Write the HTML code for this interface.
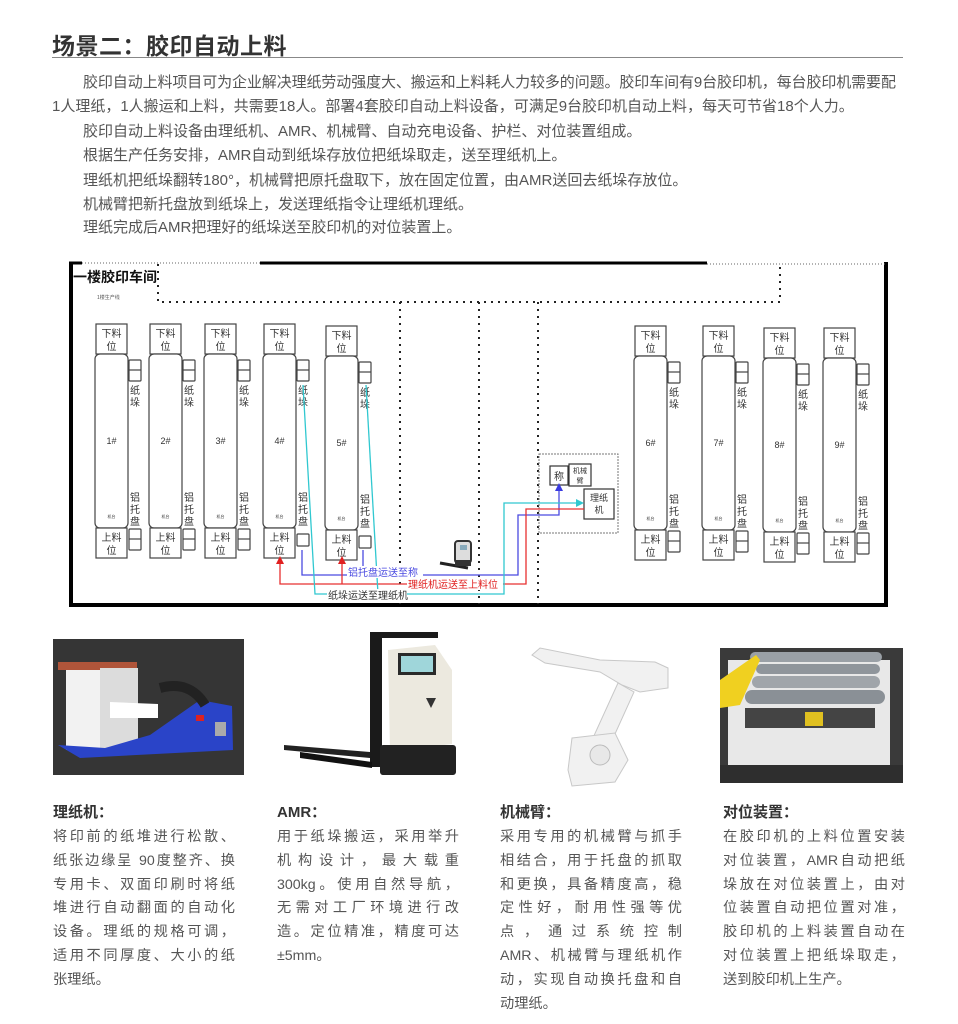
<!DOCTYPE html>
<html><head><meta charset="utf-8">
<style>
*{margin:0;padding:0;box-sizing:border-box}
body{width:958px;height:1024px;background:#fff;position:relative;overflow:hidden;font-family:"Liberation Sans","Noto Sans CJK SC",sans-serif;color:#555}
.title{position:absolute;left:52px;top:27px;font-size:23px;font-weight:bold;color:#333;letter-spacing:0.5px}
.hr{position:absolute;left:52px;top:57px;width:851px;height:1px;background:#888}
.p{position:absolute;left:52px;font-size:15px;line-height:24px;white-space:nowrap;color:#555}
.col{position:absolute;top:802px;width:182px;font-size:14.2px;color:#555}
.col h4{font-size:15px;font-weight:bold;color:#333;height:24px;line-height:22px}
.col div.l{height:23.8px;line-height:23.8px;text-align:justify;text-align-last:justify;white-space:nowrap}
.col div.last{text-align-last:left}
</style></head><body>
<div class="title">场景二：胶印自动上料</div>
<div class="hr"></div>
<div class="p" style="top:71px;left:83px;letter-spacing:-0.1px">胶印自动上料项目可为企业解决理纸劳动强度大、搬运和上料耗人力较多的问题。胶印车间有9台胶印机，每台胶印机需要配</div>
<div class="p" style="top:95px">1人理纸，1人搬运和上料，共需要18人。部署4套胶印自动上料设备，可满足9台胶印机自动上料，每天可节省18个人力。</div>
<div class="p" style="top:120px;left:83px">胶印自动上料设备由理纸机、AMR、机械臂、自动充电设备、护栏、对位装置组成。</div>
<div class="p" style="top:144px;left:83px">根据生产任务安排，AMR自动到纸垛存放位把纸垛取走，送至理纸机上。</div>
<div class="p" style="top:169px;left:83px">理纸机把纸垛翻转180°，机械臂把原托盘取下，放在固定位置，由AMR送回去纸垛存放位。</div>
<div class="p" style="top:193px;left:83px">机械臂把新托盘放到纸垛上，发送理纸指令让理纸机理纸。</div>
<div class="p" style="top:216px;left:83px">理纸完成后AMR把理好的纸垛送至胶印机的对位装置上。</div>

<svg style="position:absolute;left:0;top:0" width="958" height="1024" font-family="Liberation Sans,Noto Sans CJK SC,sans-serif">
<line x1="71" y1="262" x2="71" y2="607" stroke="#000" stroke-width="4"/>
<line x1="69" y1="605" x2="888" y2="605" stroke="#000" stroke-width="4"/>
<line x1="886" y1="262" x2="886" y2="607" stroke="#000" stroke-width="4"/>
<line x1="69" y1="263" x2="82" y2="263" stroke="#000" stroke-width="3"/>
<line x1="260" y1="263" x2="707" y2="263" stroke="#000" stroke-width="3"/>
<line x1="82" y1="263" x2="260" y2="263" stroke="#666" stroke-width="1" stroke-dasharray="1,2"/>
<line x1="707" y1="264" x2="886" y2="264" stroke="#666" stroke-width="1" stroke-dasharray="1,2"/>
<text x="73" y="282" font-size="14" font-weight="bold" fill="#111">一楼胶印车间</text>
<text x="97" y="299" font-size="5" fill="#555">1楼生产线</text>
<g stroke="#222" stroke-width="2" stroke-dasharray="2,5" fill="none">
<polyline points="158,264 158,302 780,302 780,264"/>
<line x1="400" y1="302" x2="400" y2="604"/>
<line x1="479" y1="302" x2="479" y2="604"/>
<line x1="538" y1="302" x2="538" y2="604"/>
</g>
<rect x="539" y="454" width="79" height="79" fill="none" stroke="#777" stroke-width="1" stroke-dasharray="2,1"/>
<g fill="#fff" stroke="#333" stroke-width="1.2">
<rect x="550" y="466" width="18" height="19"/>
<rect x="569" y="464" width="22" height="22"/>
<rect x="584" y="489" width="30" height="30"/>
</g>
<text x="559" y="480" font-size="10" text-anchor="middle" fill="#333">称</text>
<text x="580" y="473" font-size="7" text-anchor="middle" fill="#333">机械</text>
<text x="580" y="483" font-size="7" text-anchor="middle" fill="#333">臂</text>
<text x="599" y="501" font-size="9" text-anchor="middle" fill="#333">理纸</text>
<text x="599" y="513" font-size="9" text-anchor="middle" fill="#333">机</text>

<g id="machines" font-size="10" fill="#333"></g>

<g fill="none" stroke-width="1.3">
<polyline stroke="#4a4ae0" points="302,550 302,575 518,575 518,515 559,515 559,490"/>
<polyline stroke="#4a4ae0" points="363,550 363,575"/>
<polyline stroke="#e83030" points="280,562 280,584 526,584 526,509 584,509"/>
<polyline stroke="#e83030" points="342,562 342,584"/>
<polyline stroke="#30c8d0" points="303,385 315,594 504,594 504,503 578,503"/>
<polyline stroke="#30c8d0" points="366,385 378,594"/>
</g>
<polygon points="559,483 555,491 563,491" fill="#3a3ae0"/>
<polygon points="584,503 576,499 576,507" fill="#30c8d0"/>
<polygon points="280,556 276,564 284,564" fill="#e02020"/>
<polygon points="342,556 338,564 346,564" fill="#e02020"/>
<rect x="347" y="566" width="76" height="12" fill="#fff"/>
<text x="348" y="576" font-size="10" fill="#4a4ae0">铝托盘运送至称</text>
<rect x="407" y="578" width="96" height="12" fill="#fff"/>
<text x="408" y="588" font-size="10" fill="#e02020">理纸机运送至上料位</text>
<rect x="327" y="589" width="80" height="12" fill="#fff"/>
<text x="328" y="599" font-size="10" fill="#333">纸垛运送至理纸机</text>
<g>
<rect x="455" y="541" width="16" height="22" rx="3" fill="#ddd" stroke="#333" stroke-width="2"/>
<rect x="460" y="545" width="7" height="5" fill="#8ab"/>
<line x1="440" y1="563" x2="468" y2="568" stroke="#222" stroke-width="3"/>
<rect x="455" y="560" width="16" height="6" fill="#333"/>
</g>

<rect x="53" y="639" width="191" height="136" fill="#353535"/>
<polygon points="58,662 137,662 137,670 58,670" fill="#b0553a"/>
<rect x="66" y="670" width="34" height="80" fill="#f2f2f2"/>
<rect x="100" y="668" width="38" height="82" fill="#dcdcdc"/>
<polygon points="58,745 105,748 150,735 200,700 232,706 233,750 80,758" fill="#2a44c8"/>
<polygon points="110,702 158,704 158,718 110,718" fill="#fff"/>
<path d="M160 688 Q190 680 205 705" stroke="#222" stroke-width="10" fill="none"/>
<rect x="215" y="722" width="11" height="14" fill="#aaa"/>
<rect x="196" y="715" width="8" height="6" fill="#d22"/>

<rect x="370" y="632" width="12" height="135" fill="#1a1a1a"/>
<rect x="370" y="632" width="68" height="6" fill="#1a1a1a"/>
<path d="M388 650 L435 645 L452 670 L452 744 L390 752 Z" fill="#ece9df"/>
<rect x="398" y="653" width="38" height="22" fill="#2a2a2a"/>
<rect x="401" y="656" width="32" height="16" fill="#9fd6da"/>
<polygon points="426,698 436,698 431,708" fill="#333"/>
<rect x="380" y="745" width="76" height="30" rx="3" fill="#222"/>
<polygon points="284,745 370,752 370,758 284,750" fill="#222"/>
<polygon points="300,752 372,762 372,768 300,758" fill="#111"/>

<g fill="#f1f1f1" stroke="#c8c8c8" stroke-width="1">
<path d="M532 655 L540 648 L600 660 L655 662 L668 668 L668 688 L640 692 L622 685 L600 672 L545 663 Z"/>
<path d="M618 683 L634 692 L610 745 L592 740 Z"/>
<path d="M572 738 L615 733 L628 760 L615 782 L572 786 L568 770 Z"/>
</g>
<circle cx="600" cy="755" r="10" fill="#e8e8e8" stroke="#bbb"/>

<rect x="720" y="648" width="183" height="135" fill="#3a3a3a"/>
<rect x="728" y="660" width="162" height="112" fill="#e8e8e8"/>
<rect x="750" y="652" width="132" height="10" rx="5" fill="#9aa0a6"/>
<rect x="756" y="664" width="124" height="10" rx="5" fill="#8f959b"/>
<rect x="752" y="676" width="128" height="12" rx="6" fill="#a0a5aa"/>
<rect x="745" y="690" width="140" height="14" rx="7" fill="#8a9096"/>
<polygon points="720,680 756,655 760,660 740,705 720,708" fill="#f0d020"/>
<rect x="745" y="708" width="130" height="20" fill="#444"/>
<rect x="805" y="712" width="18" height="14" fill="#e0c020"/>
<rect x="720" y="765" width="183" height="18" fill="#2e2e2e"/>
</svg>

<div class="col" style="left:53px">
<h4>理纸机：</h4>
<div class="l">将印前的纸堆进行松散、</div>
<div class="l">纸张边缘呈 90度整齐、换</div>
<div class="l">专用卡、双面印刷时将纸</div>
<div class="l">堆进行自动翻面的自动化</div>
<div class="l">设备。理纸的规格可调，</div>
<div class="l">适用不同厚度、大小的纸</div>
<div class="l last">张理纸。</div>
</div>
<div class="col" style="left:277px">
<h4>AMR：</h4>
<div class="l">用于纸垛搬运，采用举升</div>
<div class="l">机构设计，最大载重</div>
<div class="l">300kg。使用自然导航，</div>
<div class="l">无需对工厂环境进行改</div>
<div class="l">造。定位精准，精度可达</div>
<div class="l last">±5mm。</div>
</div>
<div class="col" style="left:500px">
<h4>机械臂：</h4>
<div class="l">采用专用的机械臂与抓手</div>
<div class="l">相结合，用于托盘的抓取</div>
<div class="l">和更换，具备精度高，稳</div>
<div class="l">定性好，耐用性强等优</div>
<div class="l">点，通过系统控制</div>
<div class="l">AMR、机械臂与理纸机作</div>
<div class="l">动，实现自动换托盘和自</div>
<div class="l last">动理纸。</div>
</div>
<div class="col" style="left:723px">
<h4>对位装置：</h4>
<div class="l">在胶印机的上料位置安装</div>
<div class="l">对位装置，AMR自动把纸</div>
<div class="l">垛放在对位装置上，由对</div>
<div class="l">位装置自动把位置对准，</div>
<div class="l">胶印机的上料装置自动在</div>
<div class="l">对位装置上把纸垛取走，</div>
<div class="l last">送到胶印机上生产。</div>
</div>

<script>
var g=document.getElementById('machines');var s='';
var M=[[96,324,1],[150,324,2],[205,324,3],[264,324,4],[326,326,5],[635,326,6],[703,326,7],[764,328,8],[824,328,9]];
M.forEach(function(m){var x=m[0],y=m[1],n=m[2];
s+='<g fill="#fff" stroke="#444" stroke-width="1.2">';
s+='<rect x="'+x+'" y="'+y+'" width="31" height="30"/>';
s+='<rect x="'+(x-1)+'" y="'+(y+30)+'" width="33" height="174" rx="5"/>';
s+='<rect x="'+x+'" y="'+(y+204)+'" width="31" height="30"/>';
s+='<rect x="'+(x+33)+'" y="'+(y+36)+'" width="12" height="21" rx="1"/><line x1="'+(x+33)+'" y1="'+(y+46)+'" x2="'+(x+45)+'" y2="'+(y+46)+'"/>';
if(n==4||n==5){s+='<rect x="'+(x+33)+'" y="'+(y+210)+'" width="12" height="12" rx="1"/>';}
else{s+='<rect x="'+(x+33)+'" y="'+(y+205)+'" width="12" height="21" rx="1"/><line x1="'+(x+33)+'" y1="'+(y+215)+'" x2="'+(x+45)+'" y2="'+(y+215)+'"/>';}
s+='</g>';
var c=x+15.5;
s+='<text x="'+c+'" y="'+(y+13)+'" text-anchor="middle">下料</text><text x="'+c+'" y="'+(y+26)+'" text-anchor="middle">位</text>';
s+='<text x="'+c+'" y="'+(y+217)+'" text-anchor="middle">上料</text><text x="'+c+'" y="'+(y+230)+'" text-anchor="middle">位</text>';
s+='<text x="'+c+'" y="'+(y+120)+'" text-anchor="middle" font-size="9">'+n+'#</text>';
s+='<text x="'+c+'" y="'+(y+194)+'" text-anchor="middle" font-size="4">机台</text>';
var tx=x+39;
s+='<text x="'+tx+'" y="'+(y+70)+'" text-anchor="middle">纸</text><text x="'+tx+'" y="'+(y+82)+'" text-anchor="middle">垛</text>';
s+='<text x="'+tx+'" y="'+(y+177)+'" text-anchor="middle">铝</text><text x="'+tx+'" y="'+(y+189)+'" text-anchor="middle">托</text><text x="'+tx+'" y="'+(y+201)+'" text-anchor="middle">盘</text>';
});
g.innerHTML=s;
</script>
</body></html>
